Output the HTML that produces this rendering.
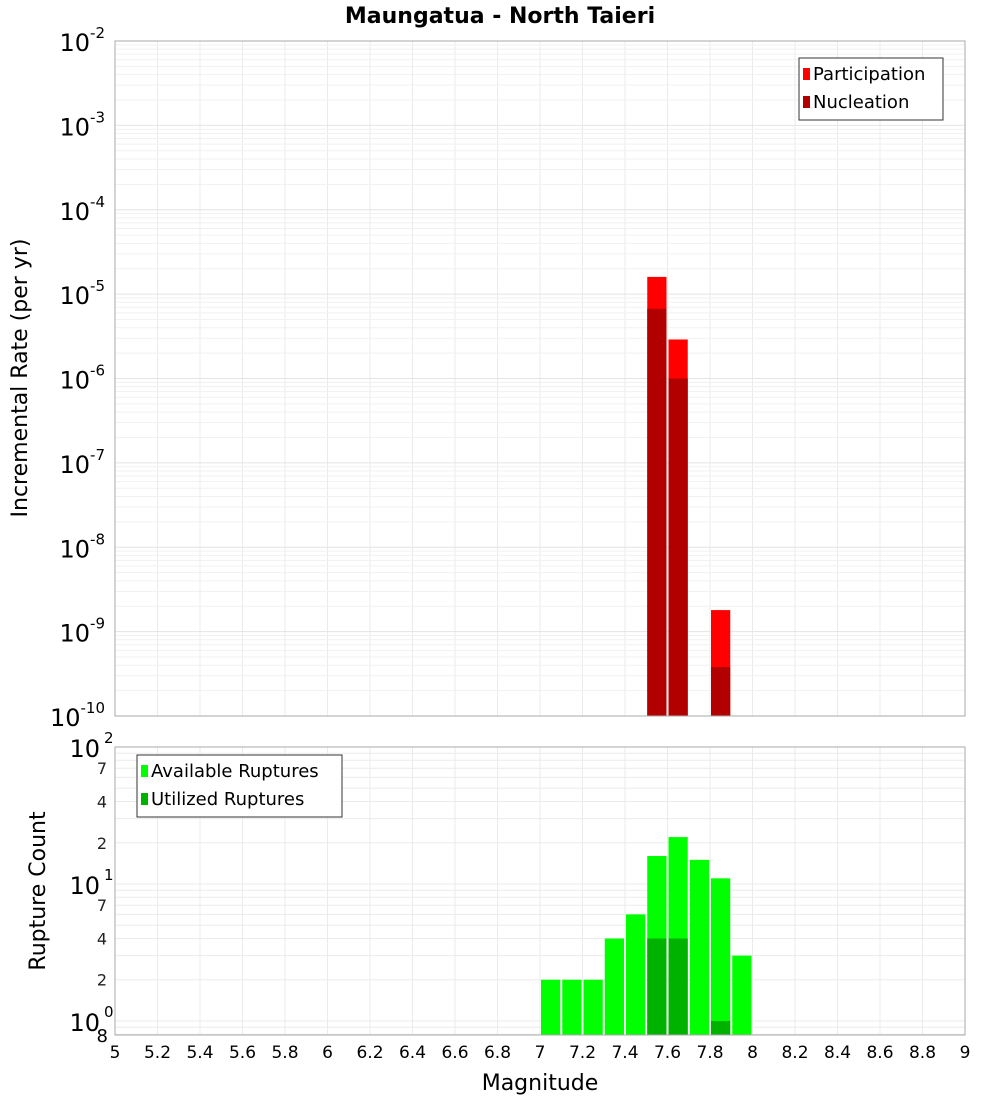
<!DOCTYPE html>
<html><head><meta charset="utf-8"><style>
html,body{margin:0;padding:0;background:#fff;}
svg{display:block;font-family:"DejaVu Sans","Liberation Sans",sans-serif;}
</style></head><body>
<svg id="c" width="1000" height="1100">
<text x="500" y="23" text-anchor="middle" font-size="22" font-weight="bold">Maungatua - North Taieri</text>
<g id="topg"></g>
<g id="botg"></g>
<text transform="translate(27,378) rotate(-90)" text-anchor="middle" font-size="22">Incremental Rate (per yr)</text>
<text transform="translate(45,891) rotate(-90)" text-anchor="middle" font-size="22">Rupture Count</text>
<text x="540" y="1090" text-anchor="middle" font-size="22">Magnitude</text>
</svg>
<script>
const binCenters=[7.05,7.15,7.25,7.35,7.45,7.55,7.65,7.75,7.85,7.95];
const participation=[0,0,0,0,0,1.6e-5,2.9e-6,0,1.8e-9,0];
const nucleation=[0,0,0,0,0,6.7e-6,1.0e-6,0,3.8e-10,0];
const available=[2,2,2,4,6,16,22,15,11,3];
const utilized=[0,0,0,0,0,4,4,0,1,0];
const xTicks=[5,5.2,5.4,5.6,5.8,6,6.2,6.4,6.6,6.8,7,7.2,7.4,7.6,7.8,8,8.2,8.4,8.6,8.8,9];
const rateExps=[-2,-3,-4,-5,-6,-7,-8,-9,-10];
const countExps=[2,1,0];

const NS="http://www.w3.org/2000/svg";
const L=115,R=965;
const X=m=>L+(m-5)/4*(R-L);
const T1=41,B1=716,Y1=v=>T1+(-2-Math.log10(v))/8*(B1-T1);
const T2=747,B2=1035,cmin=0.79,Y2=v=>T2+(2-Math.log10(v))/(2-Math.log10(cmin))*(B2-T2);
function mk(p,tag,a,txt){const e=document.createElementNS(NS,tag);for(const k in a)e.setAttribute(k,a[k]);if(txt!==undefined)e.textContent=txt;p.appendChild(e);return e;}
const gTop=document.getElementById('topg'),gBot=document.getElementById('botg');

[[gTop,T1,B1],[gBot,T2,B2]].forEach(([g,t,b])=>{
  for(let m=5;m<=9.001;m+=0.2){const l=mk(g,'line',{x1:X(m),x2:X(m),y1:t,y2:b,stroke:'#ebebeb'});
  
  }
});
for(let e=-10;e<-2;e++)for(let k=1;k<10;k++){const y=Y1(k*Math.pow(10,e));
  const l=mk(gTop,'line',{x1:L,x2:R,y1:y,y2:y,stroke:k==1?'#e4e4e4':'#f1f1f1'});
  
  }
for(let e=-1;e<2;e++)for(let k=1;k<10;k++){const v=k*Math.pow(10,e);if(v<cmin)continue;const y=Y2(v);
  const l=mk(gBot,'line',{x1:L,x2:R,y1:y,y2:y,stroke:'#ebebeb'});
  
  }

const bw=0.1;
binCenters.forEach((c,i)=>{
  const x0=X(c-bw/2)+1,w=X(c+bw/2)-X(c-bw/2)-2;
  if(participation[i]>0){const r=mk(gTop,'rect',{x:x0,y:Y1(participation[i]),width:w,height:B1-Y1(participation[i]),fill:'#ff0000'});
    
    }
  if(nucleation[i]>0){const r=mk(gTop,'rect',{x:x0,y:Y1(nucleation[i]),width:w,height:B1-Y1(nucleation[i]),fill:'#b20000'});
    
    }
  if(available[i]>0){const r=mk(gBot,'rect',{x:x0,y:Y2(available[i]),width:w,height:B2-Y2(available[i]),fill:'#00ff00'});
    
    }
  if(utilized[i]>0){const r=mk(gBot,'rect',{x:x0,y:Y2(utilized[i]),width:w,height:B2-Y2(utilized[i]),fill:'#00b200'});
    
    }
});

mk(gTop,'rect',{x:L,y:T1,width:R-L,height:B1-T1,fill:'none',stroke:'#aaa'});
mk(gBot,'rect',{x:L,y:T2,width:R-L,height:B2-T2,fill:'none',stroke:'#aaa'});

rateExps.forEach(e=>{const y=Y1(Math.pow(10,e));
  const t=mk(gTop,'text',{x:105,y:y+10,'text-anchor':'end','font-size':24});
  
  
  mk(t,'tspan',{},'10');mk(t,'tspan',{dy:-13,'font-size':15},String(e));});
countExps.forEach(e=>{const y=Y2(Math.pow(10,e));
  const t=mk(gBot,'text',{x:100,y:y+10,'text-anchor':'end','font-size':24});
  
  
  mk(t,'tspan',{},'10');
  const s=mk(gBot,'text',{x:104,y:y-4,'font-size':15},String(e));
  
  });
[[1,2],[1,4],[1,7],[10,2],[10,4],[10,7]].forEach(([d,k])=>{const y=Y2(d*k);
  const t=mk(gBot,'text',{x:107,y:y+6,'text-anchor':'end','font-size':16,fill:'#222'},String(k));
  
  });
{const t=mk(gBot,'text',{x:108,y:1042,'text-anchor':'end','font-size':18},'8');
 
 }

xTicks.forEach(m=>{const t=mk(gBot,'text',{x:X(m),y:1058,'text-anchor':'middle','font-size':17},String(m));
  
  });

function legend(g,x,y,w,items,name){
  const lg=mk(g,'g',{});
  
  
  mk(lg,'rect',{x:x,y:y,width:w,height:items.length*28+6,fill:'#fff',stroke:'#333'});
  items.forEach(([c,lab],i)=>{mk(lg,'rect',{x:x+4,y:y+10+i*28,width:7,height:12,fill:c});
    const t=mk(lg,'text',{x:x+14,y:y+22+i*28,'font-size':18},lab);
    
    });
}
legend(gTop,799,58,144,[['#ff0000','Participation'],['#b20000','Nucleation']],'rate-legend');
legend(gBot,137,755,205,[['#00ff00','Available Ruptures'],['#00b200','Utilized Ruptures']],'count-legend');
</script>
</body></html>
